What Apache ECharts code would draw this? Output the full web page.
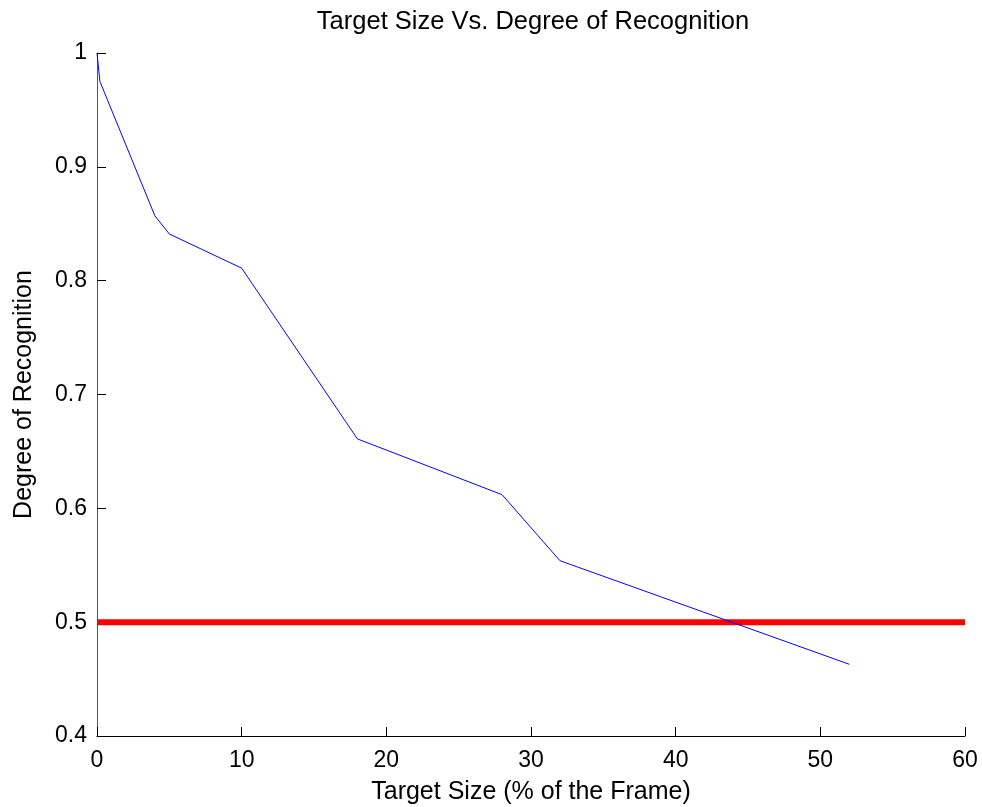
<!DOCTYPE html>
<html>
<head>
<meta charset="utf-8">
<script src="https://cdn.jsdelivr.net/npm/echarts@6/dist/echarts.min.js"></script>
<style>html,body{margin:0;padding:0;background:#fff}#c{width:982px;height:807px}</style>
</head>
<body>
<div id="c"></div>
<script>
const targetSize = [0, 0.2, 4, 5, 10, 18, 28, 32, 52];
const recognition = [1.0, 0.975, 0.857, 0.841, 0.811, 0.661, 0.612, 0.554, 0.463];
const thresholdX = [0, 60];
const thresholdY = [0.5, 0.5];
const xTicks = [0, 10, 20, 30, 40, 50, 60];
const yTicks = [0.4, 0.5, 0.6, 0.7, 0.8, 0.9, 1];

const font = 'Liberation Sans, Arial, sans-serif';
const chart = echarts.init(document.getElementById('c'));
chart.setOption({
  animation: false,
  backgroundColor: '#fff',
  title: {
    text: 'Target Size Vs. Degree of Recognition',
    left: 528, top: 4, textAlign: 'center',
    textStyle: { fontFamily: font, fontSize: 25.5, fontWeight: 'normal', color: '#000' }
  },
  grid: { left: 97, right: 17, top: 53, bottom: 71, outerBoundsMode: 'none', containLabel: false },
  xAxis: {
    type: 'value', min: xTicks[0], max: xTicks[xTicks.length - 1], interval: 10,
    name: 'Target Size (% of the Frame)', nameLocation: 'middle', nameGap: 44,
    nameTextStyle: { fontFamily: font, fontSize: 25, color: '#000' },
    axisLine: { onZero: false, lineStyle: { color: '#000', width: 1 } },
    axisTick: { inside: true, length: 9, lineStyle: { color: '#000' } },
    axisLabel: { fontFamily: font, fontSize: 23, color: '#000', margin: 13 },
    splitLine: { show: false }
  },
  yAxis: {
    type: 'value', min: yTicks[0], max: yTicks[yTicks.length - 1], interval: 0.1,
    name: 'Degree of Recognition', nameLocation: 'middle', nameGap: 60, nameRotate: 90,
    nameTextStyle: { fontFamily: font, fontSize: 25, color: '#000' },
    axisLine: { show: true, onZero: false, lineStyle: { color: '#555', width: 1 } },
    axisTick: { show: true, inside: true, length: 9, lineStyle: { color: '#000' } },
    axisLabel: { fontFamily: font, fontSize: 23, color: '#000', margin: 10,
      formatter: v => (Math.abs(v - 1) < 1e-9 ? '1' : v.toFixed(1)) },
    splitLine: { show: false }
  },
  series: [
    {
      type: 'line', data: thresholdX.map((x, i) => [x, thresholdY[i]]),
      symbol: 'none', lineStyle: { color: '#ff0000', width: 6 }, z: 2
    },
    {
      type: 'line', data: targetSize.map((x, i) => [x, recognition[i]]),
      symbol: 'none', lineStyle: { color: '#0000ff', width: 1 }, z: 3
    }
  ]
});
</script>
</body>
</html>
